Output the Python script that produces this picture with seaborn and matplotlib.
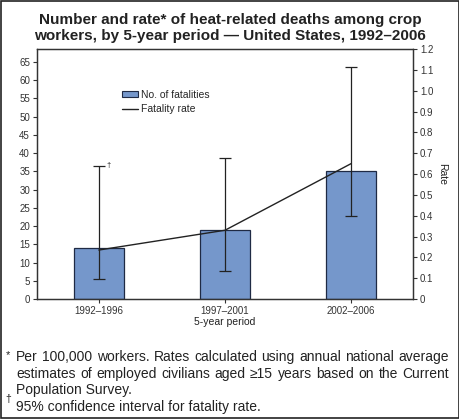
import matplotlib
matplotlib.use('Agg')
import matplotlib.pyplot as plt
from matplotlib.patches import Rectangle, Patch
from matplotlib.lines import Line2D
import seaborn as sns
import numpy as np
import pandas as pd

# ── Data ──────────────────────────────────────────────────────
periods    = ['1992–1996', '1997–2001', '2002–2006']
fatalities = [14, 19, 35]
rate       = [0.235, 0.33, 0.65]
rate_lo    = [0.095, 0.135, 0.40]
rate_hi    = [0.64, 0.675, 1.115]

df = pd.DataFrame({'period': periods, 'deaths': fatalities})

sns.set_style('white')
plt.rcParams['font.family'] = ['Liberation Sans', 'DejaVu Sans']

W, H = 460, 419
fig = plt.figure(figsize=(W / 100, H / 100), dpi=100)
ax = fig.add_axes([37 / W, 1 - 299 / H, 376 / W, 250 / H])

BAR = '#7597cb'
sns.barplot(data=df, x='period', y='deaths', color=BAR, width=0.40,
            edgecolor='#1f2a44', linewidth=0.9, saturation=1, ax=ax)
ax.set_xlim(-0.49, 2.49)
ax.set_ylim(0, 68.5)
ax.set_yticks(range(0, 66, 5))
ax.set_xlabel('5-year period', fontsize=7.5, color='#222222', labelpad=1)
ax.set_ylabel('')

# rate on the right axis
ax2 = ax.twinx()
xpos = np.arange(len(periods))
yerr = [np.array(rate) - np.array(rate_lo), np.array(rate_hi) - np.array(rate)]
ax2.errorbar(xpos, rate, yerr=yerr, fmt='none', ecolor='#222222',
             elinewidth=0.9, capsize=4, capthick=0.9)
sns.lineplot(x=xpos, y=rate, color='#222222', linewidth=1.0, ax=ax2)
ax2.set_ylim(0, 1.2)
ax2.set_yticks(np.round(np.arange(0, 1.21, 0.1), 1))
ax2.set_yticklabels(['0'] + [f'{v:.1f}' for v in np.arange(0.1, 1.21, 0.1)])
ax2.set_ylabel('Rate', rotation=270, fontsize=7.5, color='#222222', labelpad=10)
ax2.text(0.06, 0.635, '†', fontsize=5.5, color='#222222')

for a in (ax, ax2):
    for s in a.spines.values():
        s.set_color('#333333')
        s.set_linewidth(0.9)
    a.tick_params(axis='both', which='both', direction='out', length=3,
                  width=0.8, color='#333333', labelsize=7, labelcolor='#333333', pad=2)
ax.tick_params(axis='y', left=True)
ax.tick_params(axis='x', bottom=True)
ax2.tick_params(axis='y', right=True)

handles = [Patch(facecolor=BAR, edgecolor='#1f2a44', linewidth=0.8),
           Line2D([], [], color='#222222', linewidth=1.0)]
ax.legend(handles, ['No. of fatalities', 'Fatality rate'], loc='upper left',
          bbox_to_anchor=(0.2, 0.875), frameon=False, fontsize=7.5,
          handlelength=1.6, handleheight=0.5, handletextpad=0.3, labelspacing=0.45)

# title
fig.text(0.5, 0.968, 'Number and rate* of heat-related deaths among crop\n'
         'workers, by 5-year period — United States, 1992–2006',
         ha='center', va='top', fontsize=11, fontweight='bold',
         color='#222222', linespacing=1.12)

# footnotes (first two lines justified between x=16 and x=449)
foot = ['Per 100,000 workers. Rates calculated using annual national average',
        'estimates of employed civilians aged ≥15 years based on the Current',
        'Population Survey.',
        '95% confidence interval for fatality rate.']
ys = [357, 374, 390, 407]
justify = [True, True, False, False]
x0, x1 = 16, 449
FS = 10
renderer = fig.canvas.get_renderer()
for line, y, jus in zip(foot, ys, justify):
    yf = 1 - y / H
    if not jus:
        fig.text(x0 / W, yf, line, ha='left', va='center', fontsize=FS, color='#222222')
        continue
    words = line.split(' ')
    arts = [fig.text(0, yf, w, ha='left', va='center', fontsize=FS, color='#222222')
            for w in words]
    widths = [t.get_window_extent(renderer).width for t in arts]
    gap = (x1 - x0 - sum(widths)) / (len(words) - 1)
    xc = x0
    for t, wd in zip(arts, widths):
        t.set_x(xc / W)
        xc += wd + gap
fig.text(6 / W, 1 - 355 / H, '*', ha='left', va='center', fontsize=8, color='#222222')
fig.text(5 / W, 1 - 399 / H, '†', ha='left', va='center', fontsize=7.5, color='#222222')

# frame around whole picture
fig.patches.append(Rectangle((0.002, 0.002), 0.996, 0.996, transform=fig.transFigure,
                             fill=False, edgecolor='#222222', linewidth=1.2))

fig.savefig('out.png', dpi=100)
